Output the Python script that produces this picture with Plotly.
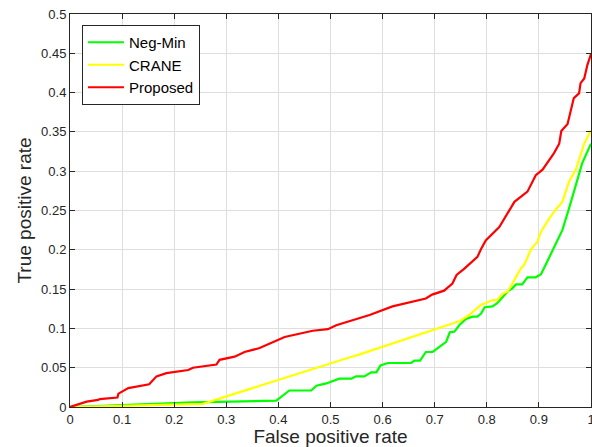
import plotly.graph_objects as go

# Neg-Min
neg_fpr = [0, 0.147, 0.237, 0.396, 0.409, 0.421, 0.463, 0.473, 0.492, 0.511, 0.517, 0.540, 0.549, 0.565,
           0.578, 0.588, 0.596, 0.610, 0.655, 0.661, 0.672, 0.683, 0.696, 0.722, 0.729, 0.738, 0.747, 0.760,
           0.773, 0.782, 0.789, 0.796, 0.811, 0.820, 0.830, 0.840, 0.849, 0.856, 0.868, 0.878, 0.894, 0.904,
           0.913, 0.927, 0.945, 0.958, 0.971, 0.983, 1.0]
neg_tpr = [0, 0.004, 0.006, 0.008, 0.015, 0.021, 0.021, 0.027, 0.030, 0.034, 0.036, 0.036, 0.039, 0.039,
           0.044, 0.044, 0.053, 0.056, 0.056, 0.059, 0.059, 0.070, 0.070, 0.083, 0.095, 0.096, 0.104, 0.112,
           0.115, 0.115, 0.119, 0.127, 0.128, 0.132, 0.140, 0.147, 0.151, 0.156, 0.156, 0.165, 0.165, 0.169,
           0.181, 0.201, 0.225, 0.253, 0.282, 0.310, 0.335]

# CRANE
crane_fpr = [0, 0.255, 0.536, 0.556, 0.747, 0.766, 0.789, 0.798, 0.811, 0.820, 0.830, 0.840, 0.849, 0.865,
             0.872, 0.885, 0.897, 0.904, 0.920, 0.932, 0.945, 0.958, 0.971, 0.987, 1.0]
crane_tpr = [0, 0.004, 0.063, 0.067, 0.109, 0.117, 0.130, 0.132, 0.136, 0.136, 0.144, 0.147, 0.157, 0.176,
             0.181, 0.201, 0.210, 0.223, 0.240, 0.251, 0.261, 0.287, 0.302, 0.335, 0.352]

# Proposed
prop_fpr = [0, 0.032, 0.054, 0.057, 0.091, 0.093, 0.112, 0.152, 0.166, 0.185, 0.227, 0.236, 0.281, 0.287,
            0.316, 0.335, 0.364, 0.396, 0.412, 0.466, 0.495, 0.511, 0.536, 0.556, 0.575, 0.619, 0.651, 0.683,
            0.695, 0.718, 0.734, 0.742, 0.757, 0.782, 0.789, 0.798, 0.824, 0.853, 0.878, 0.894, 0.907, 0.929,
            0.939, 0.943, 0.955, 0.967, 0.977, 0.980, 0.987, 0.993, 1.0]
prop_tpr = [0, 0.0068, 0.009, 0.010, 0.012, 0.017, 0.024, 0.029, 0.039, 0.043, 0.047, 0.050, 0.054, 0.060,
            0.064, 0.070, 0.075, 0.085, 0.089, 0.097, 0.099, 0.104, 0.109, 0.113, 0.117, 0.128, 0.133, 0.138,
            0.143, 0.148, 0.157, 0.168, 0.176, 0.191, 0.201, 0.212, 0.229, 0.261, 0.274, 0.295, 0.302, 0.323,
            0.335, 0.351, 0.360, 0.393, 0.399, 0.412, 0.418, 0.435, 0.449]

x_ticks = [0, 0.1, 0.2, 0.3, 0.4, 0.5, 0.6, 0.7, 0.8, 0.9, 1]
x_labels = ["0", "0.1", "0.2", "0.3", "0.4", "0.5", "0.6", "0.7", "0.8", "0.9", "1"]
y_ticks = [0, 0.05, 0.1, 0.15, 0.2, 0.25, 0.3, 0.35, 0.4, 0.45, 0.5]
y_labels = ["0", "0.05", "0.1", "0.15", "0.2", "0.25", "0.3", "0.35", "0.4", "0.45", "0.5"]

fig = go.Figure()
fig.add_trace(go.Scatter(x=neg_fpr, y=neg_tpr, mode="lines", name="Neg-Min",
                         line=dict(color="#00ff00", width=2.2)))
fig.add_trace(go.Scatter(x=crane_fpr, y=crane_tpr, mode="lines", name="CRANE",
                         line=dict(color="#ffff00", width=2.2)))
fig.add_trace(go.Scatter(x=prop_fpr, y=prop_tpr, mode="lines", name="Proposed",
                         line=dict(color="#ff0000", width=2.2)))

axis_common = dict(showline=True, linecolor="#262626", linewidth=1, mirror="ticks",
                   ticks="inside", ticklen=5, tickcolor="#262626",
                   showgrid=True, gridcolor="#dedede", gridwidth=1, zeroline=False,
                   ticklabeloverflow="allow", automargin=False,
                   tickfont=dict(family="Liberation Sans, Arial, sans-serif", size=13, color="#262626"))

fig.update_layout(
    width=592, height=447,
    margin=dict(l=70, r=1, t=14, b=40),
    plot_bgcolor="white", paper_bgcolor="white",
    font=dict(family="Liberation Sans, Arial, sans-serif", color="#262626"),
    xaxis=dict(range=[0, 1], tickvals=x_ticks, ticktext=x_labels,
               title=dict(text="False positive rate", font=dict(size=19), standoff=4), **axis_common),
    yaxis=dict(range=[0, 0.5], tickvals=y_ticks, ticktext=y_labels,
               title=dict(text="True positive rate", font=dict(size=19), standoff=4), **axis_common),
    legend=dict(x=0.023, y=0.972, xanchor="left", yanchor="top",
                bgcolor="white", bordercolor="#262626", borderwidth=1,
                font=dict(size=15, color="#000000"), tracegroupgap=0,
                itemwidth=36),
    showlegend=True,
)

fig.write_html("out.html", config={"displayModeBar": False},
               post_script="document.body.style.margin='0';document.body.style.overflow='hidden';")
